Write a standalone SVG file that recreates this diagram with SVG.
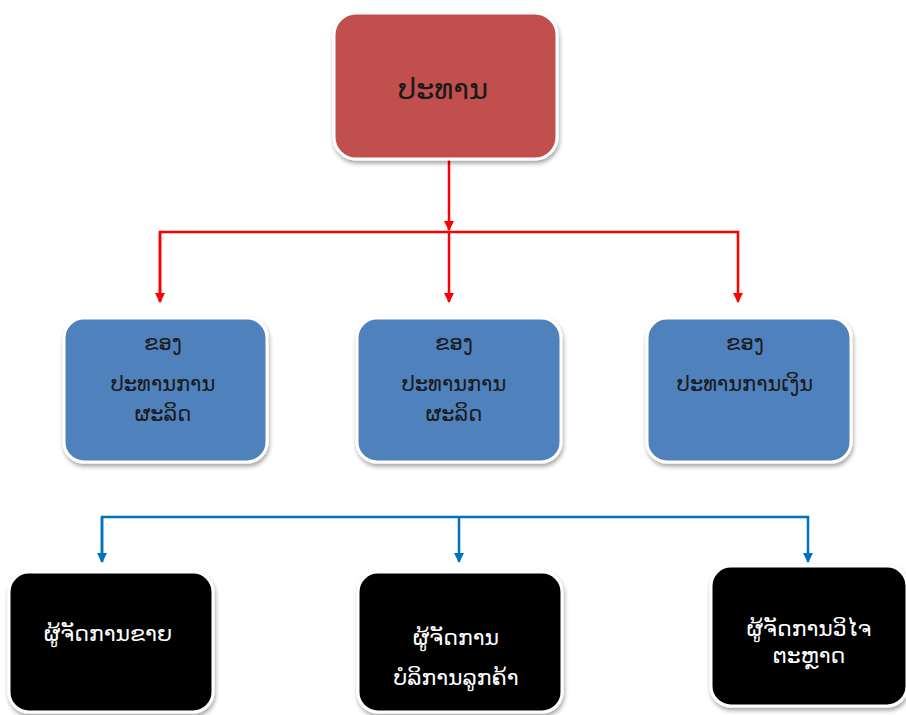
<svg xmlns="http://www.w3.org/2000/svg" width="906" height="715" viewBox="0 0 906 715">
  <defs>
    <filter id="shadow" x="-10%" y="-10%" width="120%" height="125%">
      <feDropShadow dx="1" dy="3" stdDeviation="2" flood-color="#000" flood-opacity="0.35"/>
    </filter>
    <marker id="arrRed" viewBox="0 0 10 10" refX="9" refY="5" markerWidth="4" markerHeight="4" orient="auto" markerUnits="strokeWidth">
      <path d="M0,0 L10,5 L0,10 z" fill="#FF0000"/>
    </marker>
    <marker id="arrBlue" viewBox="0 0 10 10" refX="9" refY="5" markerWidth="4" markerHeight="4" orient="auto" markerUnits="strokeWidth">
      <path d="M0,0 L10,5 L0,10 z" fill="#0070C0"/>
    </marker>
  </defs>
  <style>
    .box { stroke: #ffffff; stroke-width: 3; filter: url(#shadow); }
    .red { fill: #C0504D; }
    .blue { fill: #4F81BD; }
    .black { fill: #000000; }
    .lbl { font-family: "DejaVu Sans", "Noto Sans", sans-serif; text-anchor: middle; }
    .dark { fill: #1a1a1a; font-size: 21px; }
    .light { fill: #ffffff; font-size: 22px; }
    .redline { stroke: #FF0000; stroke-width: 2.5; fill: none; }
    .blueline { stroke: #0070C0; stroke-width: 2.5; fill: none; }
  </style>
  <rect width="906" height="715" fill="#ffffff"/>

  <g id="connectors">
    <path class="redline" d="M449,160 V230" marker-end="url(#arrRed)"/>
    <path class="redline" d="M160,302 V232 H738 V302" marker-end="url(#arrRed)"/>
    <path class="redline" d="M160,232 V302" marker-end="url(#arrRed)"/>
    <path class="redline" d="M449,232 V302" marker-end="url(#arrRed)"/>
    <path class="blueline" d="M102,562 V517 H808 V562" marker-end="url(#arrBlue)"/>
    <path class="blueline" d="M102,517 V562" marker-end="url(#arrBlue)"/>
    <path class="blueline" d="M459,517 V562" marker-end="url(#arrBlue)"/>
  </g>

  <g id="president">
    <rect class="box red" x="334" y="13" width="223" height="146" rx="22"/>
    <text class="lbl dark" x="443" y="99" style="font-size:29px">ປະທານ</text>
  </g>

  <g id="vp-production-1">
    <rect class="box blue" x="64" y="318" width="203" height="144" rx="20"/>
    <text class="lbl dark" x="163" y="350">ຂອງ</text>
    <text class="lbl dark" x="163" y="391">ປະທານການ</text>
    <text class="lbl dark" x="163" y="421">ຜະລິດ</text>
  </g>

  <g id="vp-production-2">
    <rect class="box blue" x="357" y="318" width="204" height="144" rx="20"/>
    <text class="lbl dark" x="454" y="350">ຂອງ</text>
    <text class="lbl dark" x="454" y="391">ປະທານການ</text>
    <text class="lbl dark" x="454" y="421">ຜະລິດ</text>
  </g>

  <g id="vp-finance">
    <rect class="box blue" x="647" y="318" width="204" height="144" rx="20"/>
    <text class="lbl dark" x="745" y="350">ຂອງ</text>
    <text class="lbl dark" x="745" y="391">ປະທານການເງິນ</text>
  </g>

  <g id="sales-manager">
    <rect class="box black" x="9" y="572" width="204" height="140" rx="20"/>
    <text class="lbl light" x="108" y="641">ຜູ້ຈັດການຂາຍ</text>
  </g>

  <g id="service-manager">
    <rect class="box black" x="358" y="572" width="204" height="140" rx="20"/>
    <text class="lbl light" x="456" y="645">ຜູ້ຈັດການ</text>
    <text class="lbl light" x="456" y="685">ບໍລິການລູກຄ້າ</text>
  </g>

  <g id="research-manager">
    <rect class="box black" x="711" y="566" width="196" height="140" rx="20"/>
    <text class="lbl light" x="809" y="636">ຜູ້ຈັດການວິໄຈ</text>
    <text class="lbl light" x="809" y="663">ຕະຫຼາດ</text>
  </g>
</svg>
